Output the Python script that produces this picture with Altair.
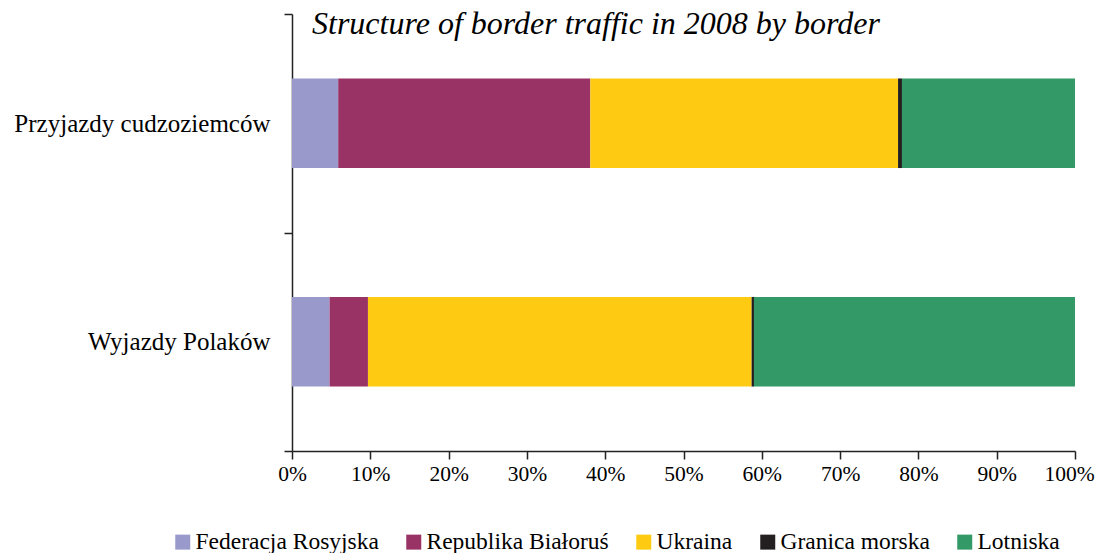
import altair as alt
import pandas as pd

categories = ["Przyjazdy cudzoziemców", "Wyjazdy Polaków"]
series = ["Federacja Rosyjska", "Republika Białoruś", "Ukraina", "Granica morska", "Lotniska"]
colors = ["#9999CC", "#993366", "#FECB12", "#231F20", "#339966"]
title_text = ["Structure of border traffic in 2008 by border"]

federacja = [5.9, 4.8]
bialorus = [32.2, 4.9]
ukraina = [39.3, 49.0]
granica = [0.5, 0.3]
lotniska = [22.1, 41.0]

values = [federacja, bialorus, ukraina, granica, lotniska]
rows = []
for i, (name, vals) in enumerate(zip(series, values)):
    for cat, v in zip(categories, vals):
        rows.append({"kategoria": cat, "seria": name, "wartosc": v, "idx": i})
df = pd.DataFrame(rows)
df_title = pd.DataFrame({"t": title_text})

FONT = "Liberation Serif"

bars = alt.Chart(df).mark_bar(
    height=alt.RelativeBandSize(band=0.41), strokeWidth=0
).encode(
    y=alt.Y("kategoria:N", sort=categories, title=None,
            scale=alt.Scale(paddingInner=0, paddingOuter=0),
            axis=alt.Axis(tickBand="extent", tickSize=8, labelPadding=14,
                          labelFont=FONT, labelFontSize=25, labelColor="#000000",
                          domainColor="#222222", tickColor="#222222",
                          domainWidth=1.5, tickWidth=1.5, labelLimit=400)),
    x=alt.X("wartosc:Q", stack="normalize", title=None,
            scale=alt.Scale(domain=[0, 1], nice=False),
            axis=alt.Axis(format="%", values=[i / 10 for i in range(11)],
                          tickSize=8, labelPadding=4, grid=False,
                          labelFont=FONT, labelFontSize=21.5, labelColor="#000000",
                          domainColor="#222222", tickColor="#222222",
                          domainWidth=1.5, tickWidth=1.5, labelFlush=False,
                          labelOffset=alt.expr("datum.value >= 1 ? -6 : 0"))),
    color=alt.Color("seria:N", sort=series,
                    scale=alt.Scale(domain=series, range=colors),
                    legend=alt.Legend(orient="none", legendX=-121, legendY=516,
                                      direction="horizontal", columns=5,
                                      title=None, symbolType="square",
                                      symbolSize=225, symbolStrokeWidth=0,
                                      symbolOpacity=1,
                                      labelFont=FONT, labelFontSize=23.5,
                                      labelColor="#000000", labelOffset=1,
                                      columnPadding=23, labelLimit=400)),
    order=alt.Order("idx:Q"),
)

title = alt.Chart(df_title).mark_text(
    font=FONT, fontStyle="italic", fontSize=32, color="#000000",
    align="left", baseline="alphabetic",
).encode(
    text="t:N",
    x=alt.value(20),
    y=alt.value(20),
)

chart = alt.layer(bars, title).properties(
    width=783,
    height=437,
    autosize=alt.AutoSizeParams(type="none"),
    padding={"left": 284, "top": 6, "right": 20, "bottom": 102},
    background="#FFFFFF",
).configure_view(stroke=None).configure_legend(
    labelFont=FONT, labelFontSize=23.5, labelColor="#000000"
)

chart.save("out.html", embed_options={"renderer": "svg", "actions": False})
